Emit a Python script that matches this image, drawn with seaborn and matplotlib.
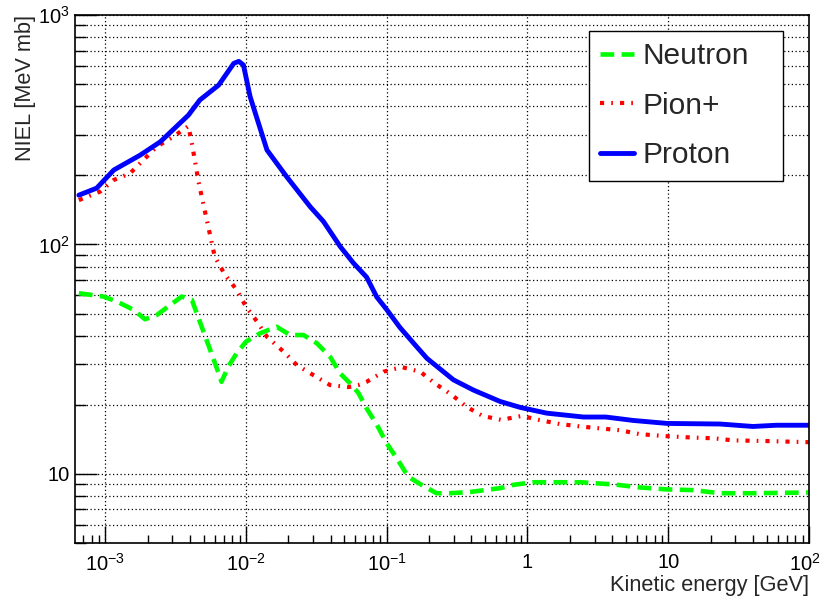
import numpy as np
import pandas as pd
import matplotlib
matplotlib.use("Agg")
import matplotlib.pyplot as plt
import seaborn as sns
from matplotlib.ticker import FixedLocator, NullFormatter
from matplotlib.transforms import ScaledTranslation

# ---------------- data ----------------
proton_x = [6.5e-4, 8.7e-4, 1.15e-3, 1.77e-3, 2.46e-3, 3.9e-3, 4.7e-3, 6.4e-3, 8.2e-3, 8.9e-3,
            9.6e-3, 1.07e-2, 1.41e-2, 1.95e-2, 2.86e-2, 3.55e-2, 4.67e-2, 5.8e-2, 7.2e-2, 8.5e-2,
            0.1, 0.124, 0.159, 0.193, 0.298, 0.413, 0.638, 0.886, 1.37, 2.5,
            3.6, 5.65, 9.8, 23.3, 40, 58.7, 100]
proton_y = [164, 176, 211, 245, 280, 366, 426, 495, 616, 628,
            605, 441, 258, 197, 146, 126, 98, 83, 72, 59,
            52, 43.5, 36.5, 31.9, 25.7, 23.2, 20.7, 19.5, 18.4, 17.7,
            17.7, 17.1, 16.6, 16.5, 16.1, 16.3, 16.3]

pion_x = [6.5e-4, 9.2e-4, 1.15e-3, 1.5e-3, 2.33e-3, 3.05e-3, 3.9e-3, 4.13e-3, 4.6e-3, 5.27e-3,
          6.0e-3, 7.1e-3, 8.6e-3, 1e-2, 1.2e-2, 1.41e-2, 1.85e-2, 2.3e-2, 3.0e-2, 3.96e-2,
          5.35e-2, 6.3e-2, 7.2e-2, 9.5e-2, 0.128, 0.173, 0.22, 0.29, 0.37, 0.48,
          0.65, 0.91, 1.2, 1.7, 2.37, 3.25, 4.55, 6.3, 9.8, 15,
          21, 29, 52, 100]
pion_y = [156, 170, 191, 204, 267, 295, 328, 276, 188, 128,
          88.5, 73.7, 63.4, 53.6, 46.1, 39.6, 34.1, 29.8, 27.0, 24.4,
          23.9, 24.4, 25.2, 27.9, 29.2, 27.9, 24.8, 22.1, 19.6, 17.9,
          17.2, 17.9, 17.2, 16.5, 16.1, 15.8, 15.5, 14.9, 14.6, 14.4,
          14.3, 14.0, 13.9, 13.75]

neutron_x = [6.5e-4, 9.7e-4, 1.21e-3, 1.59e-3, 1.92e-3, 2.33e-3, 2.9e-3, 3.5e-3, 4.13e-3, 4.7e-3,
             5.57e-3, 6.4e-3, 6.7e-3, 7.5e-3, 8.6e-3, 1e-2, 1.26e-2, 1.65e-2, 2.06e-2, 2.56e-2,
             3.19e-2, 3.96e-2, 4.67e-2, 5.5e-2, 6.3e-2, 7.2e-2, 8.5e-2, 0.1, 0.12, 0.142,
             0.18, 0.226, 0.28, 0.39, 0.64, 0.79, 1.1, 1.8, 2.37, 4.1,
             6.3, 9.8, 15, 23.3, 40, 100]
neutron_y = [61.3, 59.3, 56.4, 51.9, 47.2, 49.3, 54.5, 59.3, 57.3, 46.1,
             34.7, 27.4, 25.2, 29.4, 33.6, 37.7, 41.0, 43.8, 40.3, 40.3,
             37.1, 32.4, 27.4, 24.8, 22.5, 19.3, 16.4, 13.6, 11.5, 9.73,
             8.9, 8.24, 8.24, 8.34, 8.67, 8.96, 9.2, 9.2, 9.2, 9.0,
             8.73, 8.56, 8.5, 8.24, 8.24, 8.3]

series_names = ["Neutron", "Pion+", "Proton"]
x_tick_values = [1e-3, 1e-2, 1e-1, 1, 10, 100]
x_tick_labels = ["$10^{-3}$", "$10^{-2}$", "$10^{-1}$", "1", "10", "$10^{2}$"]
y_tick_values = [10, 100, 1000]
y_tick_labels = ["10", "$10^{2}$", "$10^{3}$"]

# ---------------- style ----------------
sns.set_theme(style="white")
plt.rcParams["font.family"] = ["Liberation Sans", "DejaVu Sans"]
plt.rcParams["mathtext.fontset"] = "custom"
plt.rcParams["mathtext.rm"] = "Liberation Sans"
plt.rcParams["mathtext.it"] = "Liberation Sans:italic"
plt.rcParams["mathtext.bf"] = "Liberation Sans:bold"
plt.rcParams["axes.unicode_minus"] = False

df = pd.concat([
    pd.DataFrame({"E": neutron_x, "NIEL": neutron_y, "particle": series_names[0]}),
    pd.DataFrame({"E": pion_x, "NIEL": pion_y, "particle": series_names[1]}),
    pd.DataFrame({"E": proton_x, "NIEL": proton_y, "particle": series_names[2]}),
], ignore_index=True)

fig = plt.figure(figsize=(8.23, 6.0), dpi=100)
ax = fig.add_axes([0.0911, 0.095, 0.8919, 0.88])
ax.set_xscale("log")
ax.set_yscale("log")

colors = {"Neutron": "#00ff00", "Pion+": "#ff0000", "Proton": "#0000ff"}
dashes = {"Neutron": (3.0, 1.6), "Pion+": (1.0, 1.7, 0.4, 1.7), "Proton": ""}
widths = {"Neutron": 3.3, "Pion+": 3.0, "Proton": 3.5}

for name in series_names:
    sub = df[df["particle"] == name]
    sns.lineplot(data=sub, x="E", y="NIEL", ax=ax, color=colors[name],
                 linewidth=widths[name], estimator=None, sort=False, label=name,
                 legend=False)
    line = ax.lines[-1]
    if dashes[name]:
        line.set_dashes(dashes[name])
        line.set_dash_capstyle("butt")
    line.set_solid_capstyle("round")

ax.set_xlim(6.1e-4, 100)
ax.set_ylim(5, 1000)

ax.xaxis.set_major_locator(FixedLocator(x_tick_values))
ax.set_xticklabels(x_tick_labels)
ax.yaxis.set_major_locator(FixedLocator(y_tick_values))
ax.set_yticklabels(y_tick_labels)
xminor = [m * 10.0 ** e for e in range(-4, 3) for m in range(2, 10)]
yminor = [m * 10.0 ** e for e in range(0, 3) for m in range(2, 10)]
ax.xaxis.set_minor_locator(FixedLocator(xminor))
ax.yaxis.set_minor_locator(FixedLocator(yminor))
ax.xaxis.set_minor_formatter(NullFormatter())
ax.yaxis.set_minor_formatter(NullFormatter())

ax.tick_params(axis="both", which="both", direction="in", colors="black",
               bottom=True, left=True, top=False, right=False, labelsize=14.5)
ax.tick_params(axis="x", which="major", length=12, width=1, pad=7)
ax.tick_params(axis="x", which="minor", length=5.5, width=1)
ax.tick_params(axis="y", which="major", length=15.5, width=1, pad=4)
ax.tick_params(axis="y", which="minor", length=8, width=1)

# keep the last x tick label fully inside the canvas
last_lbl = ax.get_xticklabels()[-1]
last_lbl.set_transform(last_lbl.get_transform() + ScaledTranslation(-3 / 72, 0, fig.dpi_scale_trans))

ax.grid(True, which="major", axis="x", color="black", linestyle=(0, (1, 2)), linewidth=0.9)
ax.grid(True, which="both", axis="y", color="black", linestyle=(0, (1, 2)), linewidth=0.9)
for s in ax.spines.values():
    s.set_color("black")
    s.set_linewidth(1.2)

ax.set_xlabel("Kinetic energy [GeV]", loc="right", fontsize=15.7, labelpad=0)
ax.set_ylabel("NIEL [MeV mb]", loc="top", fontsize=15.7, labelpad=1)

leg = ax.legend(loc="upper left", bbox_to_anchor=(0.700, 0.970, 0.265, 0.0),
                mode="expand", fontsize=21.5,
                frameon=True, fancybox=False, framealpha=1, edgecolor="black",
                handlelength=1.15, handletextpad=0.27, labelspacing=0.72,
                borderpad=0.38, borderaxespad=0)
leg.get_frame().set_linewidth(1.0)

fig.savefig("out.png", dpi=100)
